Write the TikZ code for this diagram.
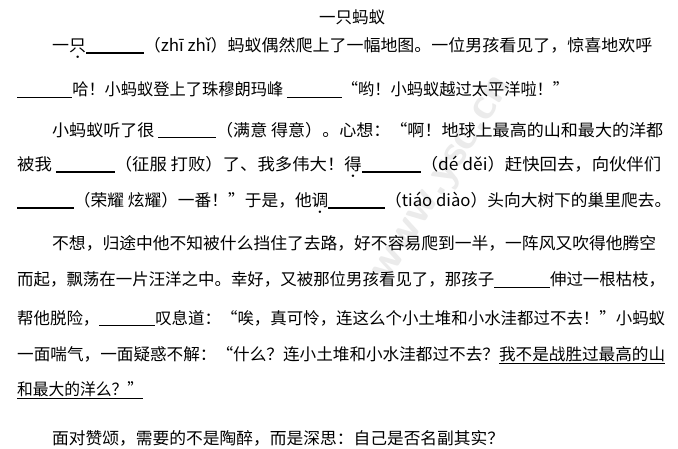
\documentclass[tikz,border=0pt]{standalone}
\usepackage{fontspec}
\usepackage{graphicx}
\newfontfamily\cjk{Noto Sans CJK SC}
\usetikzlibrary{positioning}
\tikzstyle{line}=[anchor=west, inner sep=0pt, font=\cjk\fontsize{16.5}{18}\selectfont]
\tikzstyle{wmark}=[font=\sffamily\fontsize{44}{44}\selectfont\bfseries, text=black!8, rotate=58]
\newcommand{\blank}[0]{\rule[-2pt]{56pt}{1.2pt}}
\newcommand{\dotted}[1]{#1\llap{\hbox to 1em{\hss\raisebox{-7pt}{\tiny$\bullet$}\hss}}}
\newcommand{\fitline}[2]{\resizebox{#1pt}{\height}{#2}}
\begin{document}
\begin{tikzpicture}[x=1pt,y=-1pt]
	\useasboundingbox[fill=white] (0,0) rectangle (678,449);
	\node[wmark] (wm) at (445,180) {www.ysc.cn};

	\node[line, anchor=center] (title) at (352,17) {一只蚂蚁};
	\node[line] (l1) at (52,48) {\fitline{600}{一\dotted{只}\blank（zhī zhǐ）蚂蚁偶然爬上了一幅地图。一位男孩看见了，惊喜地欢呼}};
	\node[line] (l2) at (17,90) {\fitline{552}{\blank 哈！小蚂蚁登上了珠穆朗玛峰\ \blank“哟！小蚂蚁越过太平洋啦！”}};
	\node[line] (l3) at (52,130) {\fitline{611}{小蚂蚁听了很\ \blank（满意\ 得意）。心想：“啊！地球上最高的山和最大的洋都}};
	\node[line] (l4) at (17,167) {\fitline{644}{被我\ \blank（征服\ 打败）了、我多伟大！\dotted{得}\blank（dé děi）赶快回去，向伙伴们}};
	\node[line] (l5) at (17,203) {\fitline{654}{\blank（荣耀\ 炫耀）一番！”于是，他\dotted{调}\blank（tiáo diào）头向大树下的巢里爬去。}};
	\node[line] (l6) at (52,243) {\fitline{604}{不想，归途中他不知被什么挡住了去路，好不容易爬到一半，一阵风又吹得他腾空}};
	\node[line] (l7) at (17,280) {\fitline{648}{而起，飘荡在一片汪洋之中。幸好，又被那位男孩看见了，那孩子\blank 伸过一根枯枝，}};
	\node[line] (l8) at (17,318) {\fitline{648}{帮他脱险，\blank 叹息道：“唉，真可怜，连这么个小土堆和小水洼都过不去！”小蚂蚁}};
	\node[line] (l9) at (17,355) {\fitline{648}{一面喘气，一面疑惑不解：“什么？连小土堆和小水洼都过不去？\underline{我不是战胜过最高的山}}};
	\node[line] (l10) at (17,390) {\fitline{126}{\underline{和最大的洋么？”}}};
	\node[line] (l11) at (52,438) {\fitline{452}{面对赞颂，需要的不是陶醉，而是深思：自己是否名副其实？}};
\end{tikzpicture}
\end{document}
